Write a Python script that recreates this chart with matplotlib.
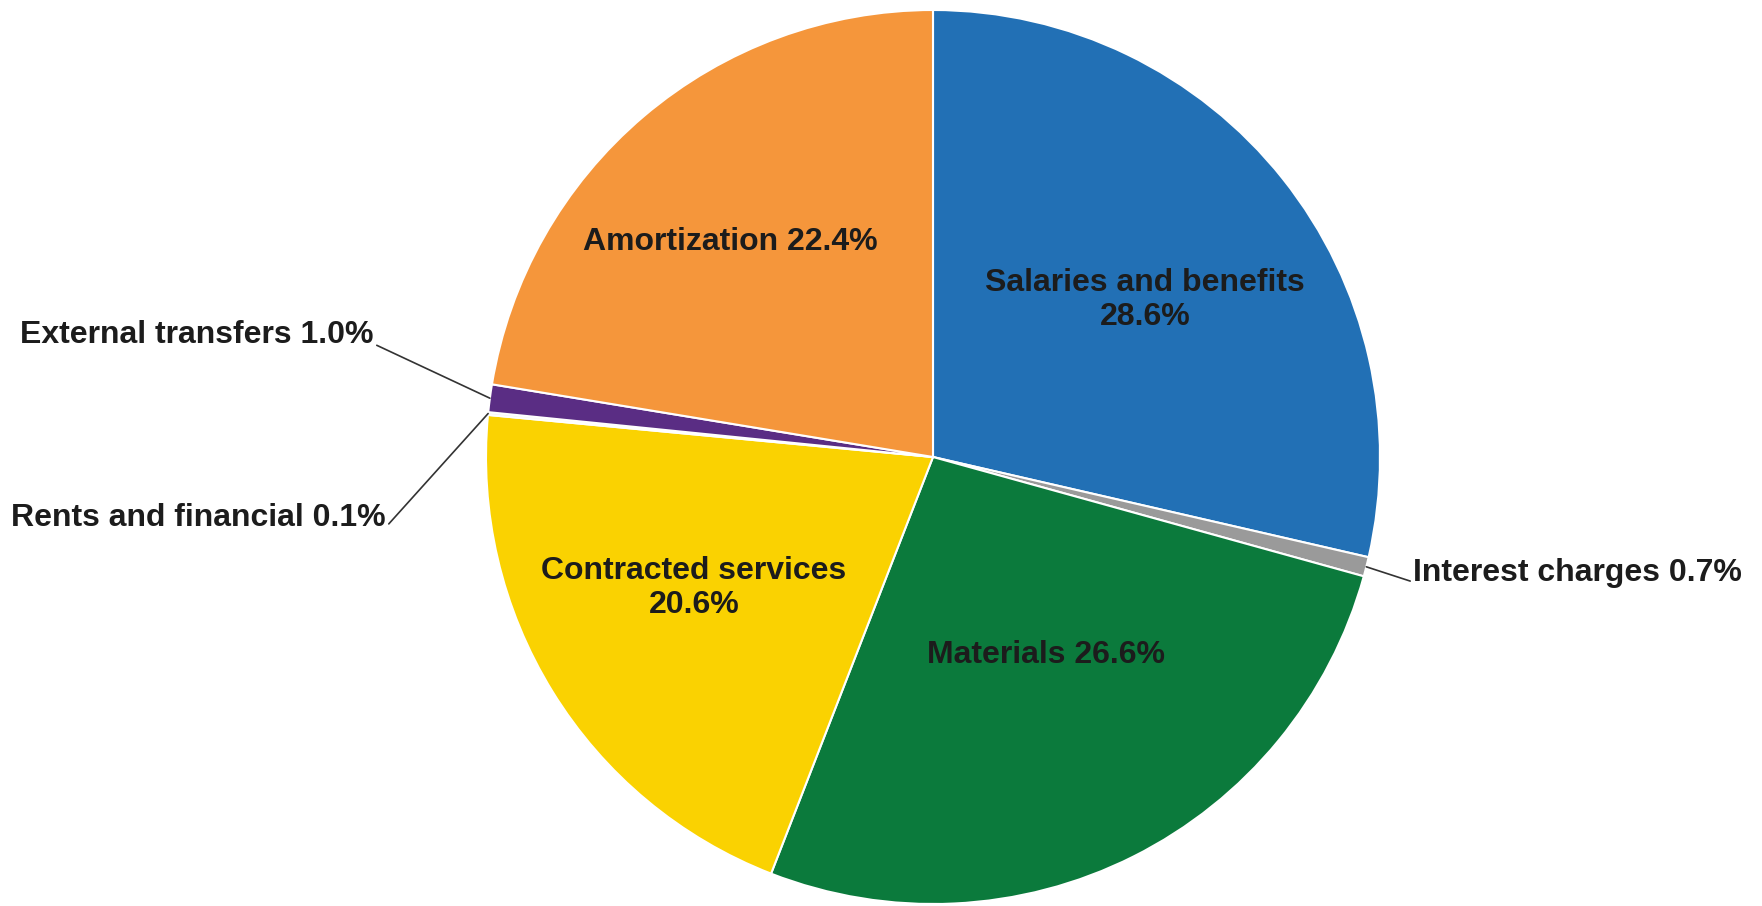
import numpy as np
import matplotlib.pyplot as plt

plt.rcParams['font.family'] = ['Liberation Sans', 'DejaVu Sans']

categories = ['Salaries and benefits', 'Interest charges', 'Materials',
              'Contracted services', 'Rents and financial', 'External transfers',
              'Amortization']
shares = [28.6, 0.7, 26.6, 20.6, 0.1, 1.0, 22.4]
colors = ['#2270b5', '#9a9a9a', '#0b7a3c', '#fad201', '#f4f4f4', '#5a2d84', '#f5963b']

W, H = 1762, 906
fig = plt.figure(figsize=(W / 100, H / 100), dpi=100)
ax = fig.add_axes([0, 0, 1, 1])

cx, cy, R = 933, H - 457, 447
wedges, _ = ax.pie(shares, colors=colors, startangle=90, counterclock=False,
                   center=(cx, cy), radius=R, frame=True,
                   wedgeprops=dict(edgecolor='white', linewidth=1.5))
ax.set_xlim(0, W)
ax.set_ylim(0, H)
ax.set_aspect('equal')
ax.axis('off')

txt = dict(fontsize=23, fontweight='bold', color='#1c1c1c')

# labels inside the big slices: (radius factor, angle offset deg, text)
inside = {
    0: (0.59, -2, 'Salaries and benefits\n28.6%'),
    2: (0.51, 3, 'Materials 26.6%'),
    3: (0.61, -3, 'Contracted services\n20.6%'),
    6: (0.66, 3, 'Amortization 22.4%'),
}
for i, (f, off, s) in inside.items():
    w = wedges[i]
    a = np.deg2rad((w.theta1 + w.theta2) / 2 + off)
    ax.text(cx + f * R * np.cos(a), cy + f * R * np.sin(a), s,
            ha='center', va='center', linespacing=1.15, **txt)

# small slices with leader lines: text pos in image px, alignment, anchor of line on text
outside = {
    1: (1413, 573, 'left', (0.0, 0.2), 'Interest charges 0.7%'),
    5: (374, 335, 'right', (1.0, 0.2), 'External transfers 1.0%'),
    4: (386, 518, 'right', (1.0, 0.2), 'Rents and financial 0.1%'),
}
for i, (tx, ty, ha, rp, s) in outside.items():
    w = wedges[i]
    a = np.deg2rad((w.theta1 + w.theta2) / 2)
    ex, ey = cx + R * np.cos(a), cy + R * np.sin(a)
    ax.annotate(s, xy=(ex, ey), xytext=(tx, H - ty), ha=ha, va='center',
                arrowprops=dict(arrowstyle='-', color='#333333', lw=1.2,
                                shrinkA=0, shrinkB=0, relpos=rp), **txt)

fig.savefig('out.png', dpi=100, facecolor='white')
